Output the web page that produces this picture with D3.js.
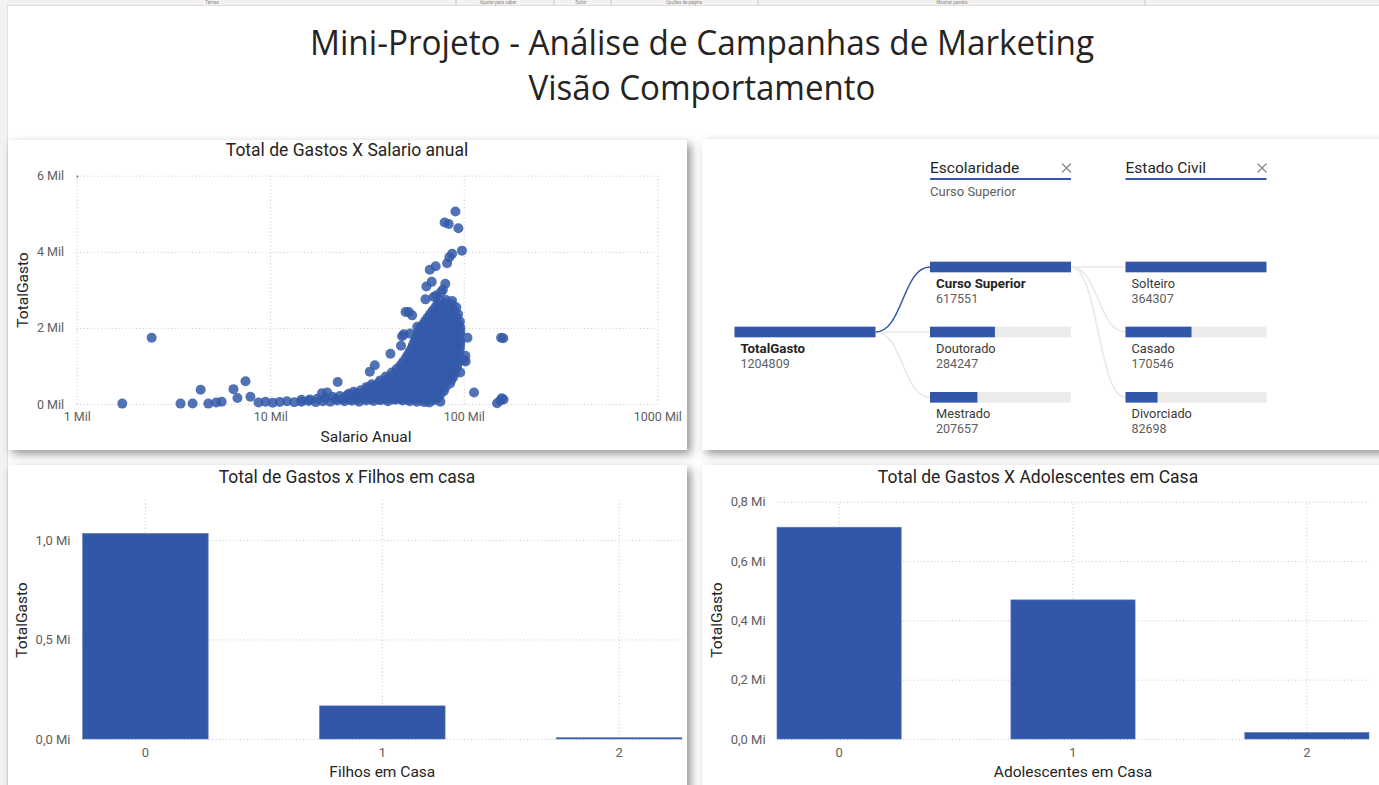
<!DOCTYPE html>
<html><head><meta charset="utf-8">
<script src="https://cdn.jsdelivr.net/npm/d3@7"></script>
<style>
html,body{margin:0;padding:0;background:#fff;overflow:hidden;}
svg{display:block;}
</style></head><body>
<svg id="c" width="1379" height="785"></svg>
<script>
// ---------------- DATA ----------------
const pageTitle = ["Mini-Projeto - Análise de Campanhas de Marketing", "Visão Comportamento"];
const ribbonLabels = ["Temas", "Ajustar para caber", "Exibir", "Opções de página", "Mostrar painéis"];

const scatterTitle = "Total de Gastos X Salario anual";
const scatterXTitle = "Salario Anual";
const scatterYTitle = "TotalGasto";
const salaryTicks = [1000, 10000, 100000, 1000000];
const salaryTickLabels = ["1 Mil", "10 Mil", "100 Mil", "1000 Mil"];
const spendTicks = [0, 2000, 4000, 6000];
const spendTickLabels = ["0 Mil", "2 Mil", "4 Mil", "6 Mil"];

// [salario anual, total gasto]
const scatterOutliers = [
  [970, 6050], [1720, 10], [2440, 1740], [3440, 10], [3970, 15], [4370, 375], [4790, 10],
  [5260, 40], [5610, 60], [6460, 390], [6770, 160], [7450, 600], [7900, 190],
  [18500, 280], [19700, 300], [22300, 580], [32700, 850], [34700, 1020], [41800, 1320],
  [47400, 1530], [48000, 1780], [49000, 1830], [50000, 2420], [52000, 2420], [54100, 2330],
  [52800, 1850], [57500, 2030], [63400, 2750], [69900, 2810], [72000, 2850], [78000, 3000],
  [64100, 3090], [68300, 3210], [66700, 3530], [71600, 3620], [76300, 2940], [80300, 3160],
  [82000, 3700], [84300, 3860], [87100, 3950], [97900, 4030], [79600, 4770], [83600, 4730],
  [93800, 4620], [90600, 5060], [104500, 1740], [101900, 1270], [102300, 1120], [99800, 1150],
  [95900, 830], [113000, 300], [75700, 60],
  [156000, 1740], [160000, 1730], [148600, 20], [154600, 90], [160600, 120], [157000, 150]
];
const scatterCloud = [
  [8700, 40], [9450, 60], [10300, 35], [11200, 55], [12200, 70], [13300, 45], [14500, 60], [15800, 80],
  [17200, 50], [18700, 75], [20400, 60], [22200, 90], [24200, 70], [26400, 85], [28800, 60], [31400, 95],
  [34200, 80], [37300, 100], [40600, 75], [44300, 110], [48300, 90], [52600, 70], [57300, 60], [62500, 50], [66500, 40],
  [14500, 110], [16000, 120], [17500, 140], [19200, 150],
  [21700, 125], [23700, 130], [25800, 120], [28100, 135], [30600, 125], [33300, 130], [36300, 120], [39600, 135],
  [43100, 125], [47000, 130], [51200, 120], [55800, 125], [60800, 115], [66300, 110], [70000, 100],
  [21000, 190], [22900, 210], [25000, 230], [27200, 200], [29700, 240], [32400, 220], [35300, 210], [38500, 230],
  [42000, 200], [45800, 220], [49900, 210], [54400, 230], [59300, 200], [64600, 180], [70400, 170], [73500, 150],
  [25500, 270], [27800, 290], [30300, 300], [33000, 290], [36000, 300], [39200, 280], [42700, 300], [46500, 290],
  [50700, 300], [55300, 280], [60300, 290], [65700, 300], [71600, 280], [76000, 260],
  [27000, 320], [29400, 360], [32000, 400], [34900, 380], [38000, 400], [41400, 390], [45100, 370], [49200, 400],
  [53600, 380], [58400, 390], [63700, 370], [69400, 380], [75000, 360], [79000, 340],
  [31500, 450], [34300, 470], [37400, 480], [40800, 460], [44400, 480], [48400, 470], [52800, 460], [57500, 480],
  [62700, 470], [68300, 460], [74500, 470], [80500, 450],
  [33500, 520], [36500, 560], [39800, 580], [43400, 560], [47300, 570], [51600, 550], [56200, 580], [61300, 560],
  [66800, 570], [72800, 550], [79400, 560], [85000, 540],
  [37000, 620], [40300, 650], [44000, 640], [48000, 660], [52300, 650], [57000, 640], [62100, 660], [67700, 650],
  [73800, 640], [80400, 650], [86500, 640],
  [39500, 720], [43000, 750], [46900, 740], [51100, 760], [55700, 730], [60700, 750], [66200, 740], [72100, 760],
  [78600, 740], [84000, 730], [88500, 720],
  [42500, 830], [46300, 840], [50500, 820], [55000, 830], [60000, 840], [65400, 820], [71300, 830], [77700, 840],
  [84700, 820], [90000, 830],
  [45000, 920], [49000, 930], [53400, 910], [58200, 940], [63400, 920], [69100, 930], [75300, 910], [82100, 920],
  [87000, 900], [91000, 910],
  [47000, 1010], [51200, 1020], [55800, 1000], [60800, 1010], [66300, 1020], [72300, 1000], [78800, 1010],
  [85900, 1020], [92500, 1000],
  [48500, 1100], [52900, 1110], [57600, 1090], [62800, 1120], [68400, 1100], [74600, 1090], [81300, 1110],
  [88000, 1100], [93500, 1090],
  [50000, 1190], [54500, 1200], [59400, 1180], [64700, 1190], [70500, 1200], [76900, 1180], [83800, 1190],
  [90500, 1200], [94500, 1180],
  [51200, 1280], [55800, 1290], [60800, 1270], [66300, 1300], [72300, 1280], [78800, 1270], [85900, 1290],
  [91000, 1280], [95000, 1270],
  [52500, 1370], [57200, 1380], [62300, 1360], [67900, 1370], [74000, 1380], [80700, 1360], [88000, 1370], [94000, 1380],
  [53700, 1460], [58500, 1470], [63800, 1450], [69500, 1480], [75800, 1460], [82600, 1450], [89000, 1470], [95500, 1460],
  [54600, 1550], [59500, 1560], [64900, 1540], [70700, 1550], [77100, 1560], [84000, 1540], [90500, 1550], [95800, 1560],
  [55600, 1640], [60600, 1650], [66100, 1630], [72000, 1660], [78500, 1640], [85500, 1630], [91500, 1650], [96000, 1640],
  [56600, 1730], [61700, 1740], [67300, 1720], [73300, 1730], [79900, 1740], [87100, 1720], [94000, 1730],
  [57600, 1820], [62800, 1830], [68400, 1810], [74600, 1840], [81300, 1820], [88600, 1810], [95500, 1830],
  [58600, 1910], [63900, 1920], [69600, 1900], [75900, 1910], [82700, 1920], [90100, 1900], [96000, 1910],
  [59700, 2000], [65100, 2010], [70900, 1990], [77300, 2020], [84300, 2000], [91000, 1990], [96000, 2010],
  [61400, 2090], [66900, 2100], [72900, 2080], [79500, 2090], [86700, 2100], [94000, 2080],
  [63100, 2180], [68800, 2190], [75000, 2170], [81700, 2200], [89100, 2180], [95500, 2170],
  [65000, 2270], [70800, 2280], [77200, 2260], [84100, 2270], [91700, 2280],
  [66900, 2360], [72900, 2370], [79500, 2350], [86600, 2380], [93500, 2360],
  [69000, 2450], [75200, 2460], [82000, 2440], [89400, 2450],
  [71300, 2540], [77700, 2550], [84700, 2530], [91500, 2540],
  [73300, 2630], [79900, 2640], [87000, 2620],
  [75400, 2720], [81000, 2730], [87000, 2710]
];

const treeLevelNames = ["Escolaridade", "Estado Civil"];
const treeFilter = "Curso Superior";
const treeRoot = [{ name: "TotalGasto", value: 1204809 }];
const escolaridade = [
  { name: "Curso Superior", value: 617551 },
  { name: "Doutorado", value: 284247 },
  { name: "Mestrado", value: 207657 }
];
const estadoCivil = [
  { name: "Solteiro", value: 364307 },
  { name: "Casado", value: 170546 },
  { name: "Divorciado", value: 82698 }
];

const filhosTitle = "Total de Gastos x Filhos em casa";
const filhosXTitle = "Filhos em Casa";
const filhosCats = ["0", "1", "2"];
const filhosValues = [1032000, 166300, 6500];
const filhosTicks = [0, 500000, 1000000];
const filhosTickLabels = ["0,0 Mi", "0,5 Mi", "1,0 Mi"];

const adolTitle = "Total de Gastos X Adolescentes em Casa";
const adolXTitle = "Adolescentes em Casa";
const adolCats = ["0", "1", "2"];
const adolValues = [714000, 469000, 22000];
const adolTicks = [0, 200000, 400000, 600000, 800000];
const adolTickLabels = ["0,0 Mi", "0,2 Mi", "0,4 Mi", "0,6 Mi", "0,8 Mi"];

// ---------------- STYLE ----------------
const BLUE = "#3257a8";
const DARK = "#252423";
const GREY = "#605e5c";
const GRID = "#c8c6c4";
const FONT = "Roboto, 'Noto Sans', sans-serif";

const svg = d3.select("#c");
const defs = svg.append("defs");
const flt = defs.append("filter").attr("id", "shadow")
  .attr("x", "-10%").attr("y", "-10%").attr("width", "125%").attr("height", "125%");
flt.append("feDropShadow").attr("dx", 4).attr("dy", 4).attr("stdDeviation", 5)
  .attr("flood-color", "#000").attr("flood-opacity", 0.42);

svg.append("rect").attr("width", 1379).attr("height", 785).attr("fill", "#fff");

// ribbon remnants (tiny)
svg.append("rect").attr("x", 0).attr("y", 0).attr("width", 1379).attr("height", 5).attr("fill", "#f3f2f1");
svg.append("line").attr("x1", 0).attr("x2", 1379).attr("y1", 5.5).attr("y2", 5.5).attr("stroke", "#e1dfdd");
const ribbonX = [212, 498, 581, 684, 952];
svg.selectAll("text.rib").data(ribbonLabels).enter().append("text")
  .attr("x", (d, i) => ribbonX[i]).attr("y", 4.2).attr("text-anchor", "middle")
  .attr("font-family", FONT).attr("font-size", 4.5).attr("fill", "#8a8886").text(d => d);
[456, 554, 611, 758, 1145].forEach(x => svg.append("line").attr("x1", x).attr("x2", x)
  .attr("y1", 0).attr("y2", 5).attr("stroke", "#c8c6c4"));
svg.append("rect").attr("x", 0).attr("y", 5).attr("width", 7).attr("height", 780).attr("fill", "#f3f2f1");
svg.append("line").attr("x1", 7.5).attr("x2", 7.5).attr("y1", 5).attr("y2", 785).attr("stroke", "#e1dfdd");

// page title
const tl = [[784, 55], [347, 100]];
svg.selectAll("text.pt").data(pageTitle).enter().append("text")
  .attr("x", 702).attr("y", (d, i) => tl[i][1]).attr("text-anchor", "middle")
  .attr("font-family", "'Segoe UI', 'Open Sans', sans-serif").attr("font-size", 34)
  .attr("fill", DARK).attr("textLength", (d, i) => tl[i][0]).attr("lengthAdjust", "spacingAndGlyphs")
  .text(d => d);

// panels
const panels = [[8, 140, 679, 310], [702, 139, 700, 311], [8, 465, 679, 340], [702, 465, 700, 340]];
panels.forEach(p => svg.append("rect").attr("x", p[0]).attr("y", p[1]).attr("width", p[2]).attr("height", p[3])
  .attr("fill", "#fff").attr("filter", "url(#shadow)"));

function styleAxis(g, size) {
  g.select(".domain").remove();
  g.selectAll(".tick line").attr("stroke", GRID).attr("stroke-dasharray", "1,2.5");
  g.selectAll(".tick text").attr("font-family", FONT).attr("font-size", size || 12).attr("fill", GREY);
}
function chartText(x, y, t, size, opts) {
  opts = opts || {};
  const el = svg.append("text").attr("x", x).attr("y", y).attr("dy", "0.35em")
    .attr("text-anchor", opts.anchor || "middle").attr("font-family", FONT)
    .attr("font-size", size).attr("fill", opts.fill || DARK).text(t);
  if (opts.rotate) el.attr("transform", `rotate(-90 ${x} ${y})`);
  if (opts.weight) el.attr("font-weight", opts.weight);
  return el;
}

// ---------------- SCATTER ----------------
(function () {
  const L = 76.7, R = 657.3, T = 175.7, B = 404;
  const x = d3.scaleLog().domain([1000, 1000000]).range([L, R]);
  const y = d3.scaleLinear().domain([0, 6000]).range([B, T]);
  svg.append("g").attr("transform", `translate(0,${B})`)
    .call(d3.axisBottom(x).tickValues(salaryTicks).tickFormat((d, i) => salaryTickLabels[i])
      .tickSize(-(B - T)).tickPadding(8.5)).call(g => styleAxis(g, 12.5));
  svg.append("g").attr("transform", `translate(${L},0)`)
    .call(d3.axisLeft(y).tickValues(spendTicks).tickFormat((d, i) => spendTickLabels[i])
      .tickSize(-(R - L)).tickPadding(12.7)).call(g => styleAxis(g, 12.5));
  defs.append("clipPath").attr("id", "sclip").append("rect")
    .attr("x", L).attr("y", T).attr("width", R - L + 40).attr("height", B - T + 12);
  svg.append("g").attr("clip-path", "url(#sclip)").selectAll("circle")
    .data(scatterCloud.concat(scatterOutliers)).enter().append("circle")
    .attr("cx", d => x(d[0])).attr("cy", d => y(d[1])).attr("r", 5)
    .attr("fill", "#3459a9").attr("fill-opacity", 0.85);
  chartText(347, 150, scatterTitle, 17.5);
  chartText(366, 436.7, scatterXTitle, 15.5);
  chartText(22.7, 290, scatterYTitle, 15.5, { rotate: true });
})();

// ---------------- DECOMPOSITION TREE ----------------
(function () {
  const colX = [734.5, 930, 1125.5];
  const BW = 141, BH = 10.6;
  const rowTop = [261.7, 326.7, 392];
  const levels = [
    treeRoot.map(d => ({ ...d, top: rowTop[1] })),
    escolaridade.map((d, i) => ({ ...d, top: rowTop[i] })),
    estadoCivil.map((d, i) => ({ ...d, top: rowTop[i] }))
  ];
  const link = d3.linkHorizontal().x(d => d[0]).y(d => d[1]);
  const links = [];
  levels[1].forEach(d => links.push({ s: [colX[0] + BW, levels[0][0].top + BH / 2], t: [colX[1], d.top + BH / 2], sel: d.name === treeFilter }));
  const selNode = levels[1].find(d => d.name === treeFilter);
  levels[2].forEach(d => links.push({ s: [colX[1] + BW, selNode.top + BH / 2], t: [colX[2], d.top + BH / 2], sel: false }));
  links.sort((a, b) => a.sel - b.sel);
  svg.append("g").selectAll("path").data(links).enter().append("path")
    .attr("d", d => link({ source: d.s, target: d.t }))
    .attr("fill", "none").attr("stroke", d => d.sel ? BLUE : "#e8e8e8").attr("stroke-width", 1.5);

  levels.forEach((lv, li) => {
    const w = d3.scaleLinear().domain([0, d3.max(lv, d => d.value)]).range([0, BW]);
    const g = svg.append("g");
    lv.forEach(d => {
      g.append("rect").attr("x", colX[li]).attr("y", d.top).attr("width", BW).attr("height", BH).attr("fill", "#ebebeb");
      g.append("rect").attr("x", colX[li]).attr("y", d.top).attr("width", w(d.value)).attr("height", BH).attr("fill", BLUE);
      const bold = li === 0 || d.name === treeFilter;
      g.append("text").attr("x", colX[li] + 6).attr("y", d.top + 21.8).attr("dy", "0.35em")
        .attr("font-family", FONT).attr("font-size", bold ? 13.3 : 12.8).attr("font-weight", bold ? 700 : 400)
        .attr("fill", bold ? DARK : "#3b3a39").text(d.name);
      g.append("text").attr("x", colX[li] + 6).attr("y", d.top + 36.8).attr("dy", "0.35em")
        .attr("font-family", FONT).attr("font-size", 12.5).attr("fill", GREY).text(d.value);
    });
  });
  treeLevelNames.forEach((n, i) => {
    const x0 = colX[i + 1];
    svg.append("text").attr("x", x0).attr("y", 168).attr("dy", "0.35em").attr("font-family", FONT)
      .attr("font-size", 15.5).attr("fill", DARK).text(n);
    svg.append("rect").attr("x", x0).attr("y", 178).attr("width", BW).attr("height", 2).attr("fill", BLUE);
    const cx = x0 + 136.5, cy = 168;
    svg.append("path").attr("d", `M${cx - 4.5},${cy - 4.5}L${cx + 4.5},${cy + 4.5}M${cx + 4.5},${cy - 4.5}L${cx - 4.5},${cy + 4.5}`)
      .attr("stroke", "#8a8886").attr("stroke-width", 1.3);
  });
  svg.append("text").attr("x", colX[1]).attr("y", 191.7).attr("dy", "0.35em").attr("font-family", FONT)
    .attr("font-size", 13).attr("fill", GREY).text(treeFilter);
})();

// ---------------- BAR CHARTS ----------------
function barChart(cfg) {
  const x = d3.scaleBand().domain(cfg.cats).range([cfg.L, cfg.R]).paddingInner(cfg.pad).paddingOuter(0);
  const y = d3.scaleLinear().domain([0, cfg.max]).range([cfg.B, cfg.T]);
  svg.append("g").attr("transform", `translate(${cfg.L},0)`)
    .call(d3.axisLeft(y).tickValues(cfg.ticks).tickFormat((d, i) => cfg.tickLabels[i])
      .tickSize(-(cfg.R - cfg.L)).tickPadding(cfg.L - cfg.labelRight)).call(g => styleAxis(g, 13));
  svg.append("g").attr("transform", `translate(0,${cfg.B})`)
    .call(d3.axisBottom(x).tickSize(-(cfg.B - cfg.T)).tickPadding(9)).call(g => styleAxis(g, 13));
  svg.append("g").selectAll("rect").data(cfg.values).enter().append("rect")
    .attr("x", (d, i) => x(cfg.cats[i])).attr("width", x.bandwidth())
    .attr("y", d => y(d)).attr("height", d => cfg.B - y(d))
    .attr("fill", BLUE).attr("stroke", "#5b78bb").attr("stroke-width", 0.6);
  chartText(cfg.cx, 476.7, cfg.title, 17.5);
  chartText(x(cfg.cats[1]) + x.bandwidth() / 2, 771.7, cfg.xTitle, 15.5);
  chartText(cfg.yTitleX, 620, "TotalGasto", 15.5, { rotate: true });
}
barChart({
  cats: filhosCats, values: filhosValues, ticks: filhosTicks, tickLabels: filhosTickLabels,
  L: 82.6, R: 682, T: 500, B: 739, max: 1200000, pad: 0.47, labelRight: 70.5,
  title: filhosTitle, xTitle: filhosXTitle, cx: 347, yTitleX: 21.4
});
barChart({
  cats: adolCats, values: adolValues, ticks: adolTicks, tickLabels: adolTickLabels,
  L: 777, R: 1369, T: 501.7, B: 739, max: 800000, pad: 0.469, labelRight: 765.6,
  title: adolTitle, xTitle: adolXTitle, cx: 1038, yTitleX: 716.4
});
</script>
</body></html>
